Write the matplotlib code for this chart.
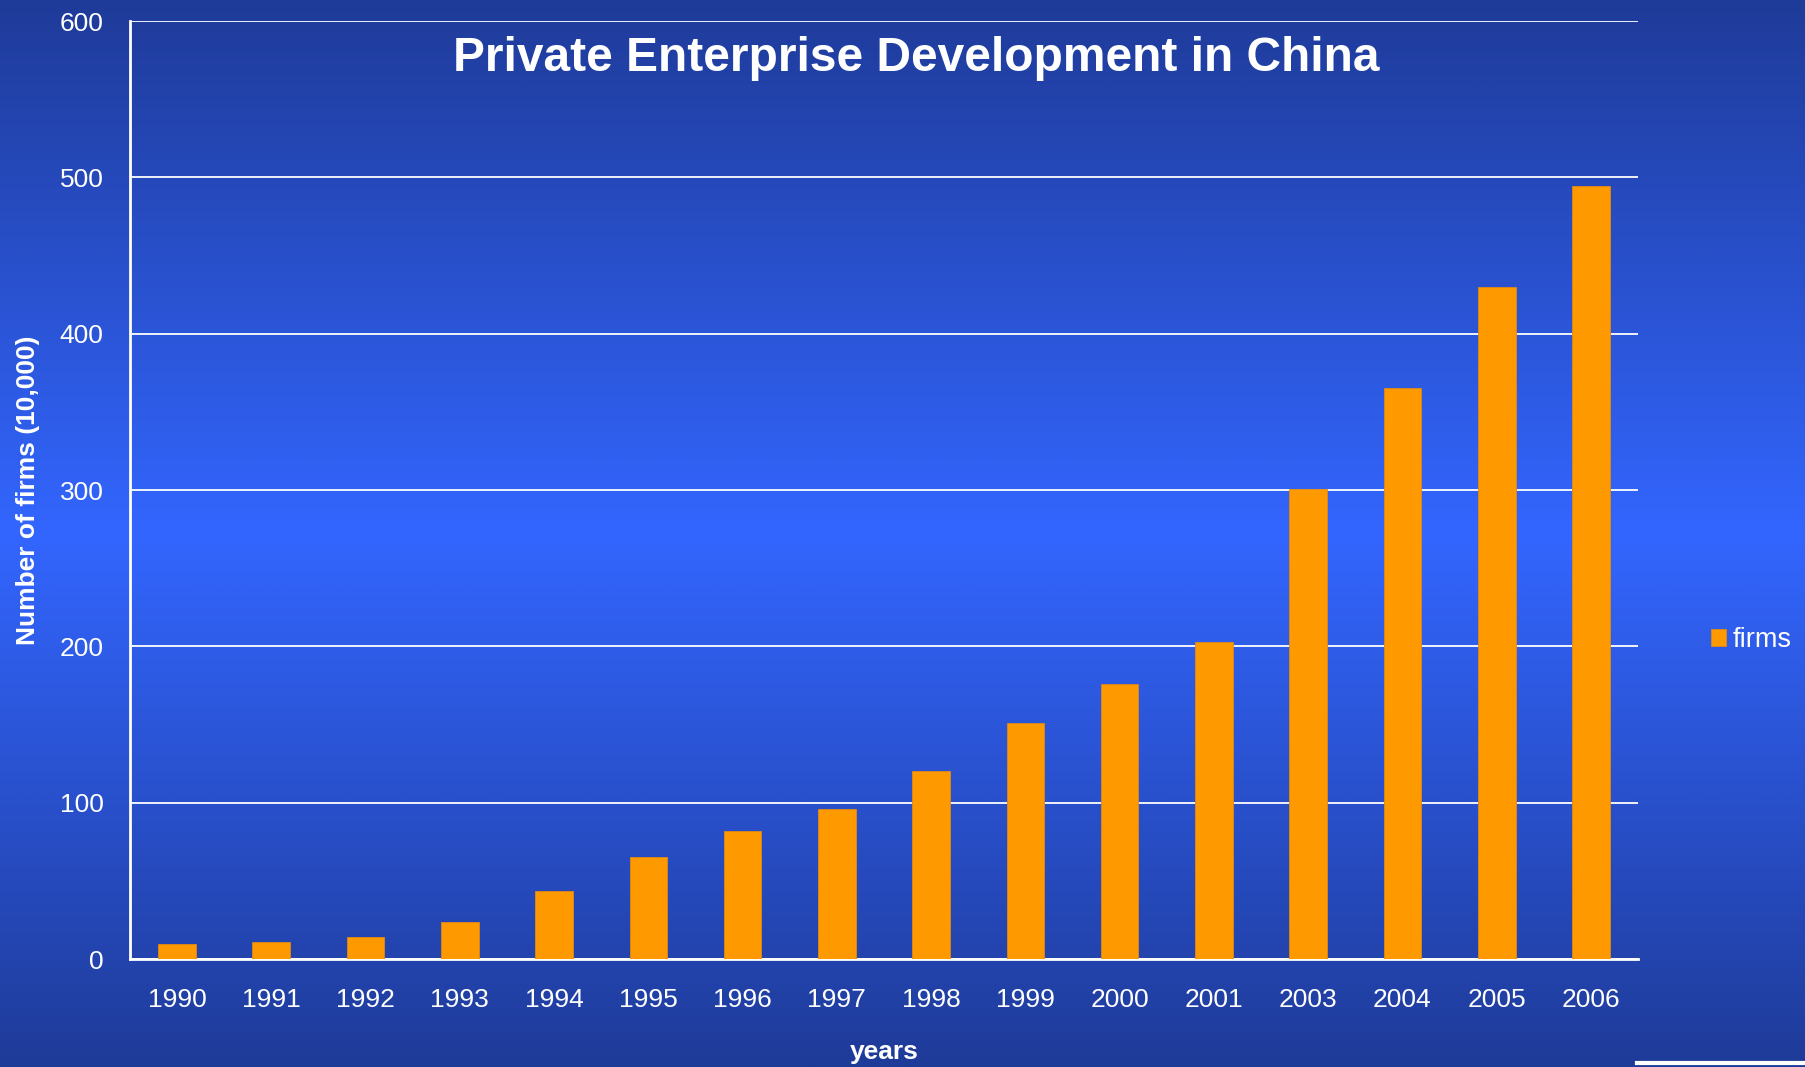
import numpy as np
import matplotlib
matplotlib.use("Agg")
import matplotlib.pyplot as plt
from matplotlib.lines import Line2D
from matplotlib.colors import LinearSegmentedColormap

years = ["1990", "1991", "1992", "1993", "1994", "1995", "1996", "1997",
         "1998", "1999", "2000", "2001", "2003", "2004", "2005", "2006"]
firms = [9.8, 10.8, 13.9, 23.8, 43.2, 65.5, 81.9, 96.1,
         120.1, 150.9, 176.2, 202.9, 300.6, 365.1, 430.1, 494.7]
yticks = [0, 100, 200, 300, 400, 500, 600]

plt.rcParams["font.family"] = ["Liberation Sans", "DejaVu Sans"]

fig = plt.figure(figsize=(18.05, 10.67), dpi=100)

# background gradient: dark top/bottom, bright middle
bg = fig.add_axes([0, 0, 1, 1], zorder=-10)
cmap = LinearSegmentedColormap.from_list(
    "bg", [(0.0, "#1f3b99"), (0.5, "#3366ff"), (1.0, "#1f3b99")])
grad = np.linspace(0, 1, 512).reshape(-1, 1)
bg.imshow(grad, aspect="auto", cmap=cmap, extent=[0, 1, 0, 1], origin="upper")
bg.set_axis_off()

ax = fig.add_axes([0.0720, 0.1012, 0.8355, 0.8791])
ax.patch.set_alpha(0)

x = np.arange(len(years))
ax.bar(x, firms, width=0.40, color="#ff9900", edgecolor="#e08a10",
       linewidth=0.6, label="firms", zorder=3)

ax.set_xlim(-0.5, len(years) - 0.5)
ax.set_ylim(0, 600)
ax.set_xticks(x)
ax.set_xticklabels(years)
ax.set_yticks(yticks)
ax.yaxis.grid(True, color="white", linewidth=1.3)
ax.set_axisbelow(True)

for side in ["top", "right"]:
    ax.spines[side].set_visible(False)
for side in ["left", "bottom"]:
    ax.spines[side].set_color("white")
    ax.spines[side].set_linewidth(2)

ax.tick_params(axis="both", length=0, colors="white", labelsize=19)
ax.tick_params(axis="y", pad=19)
ax.tick_params(axis="x", pad=21)

ax.set_ylabel("Number of firms (10,000)", color="white", fontsize=19,
              fontweight="bold", labelpad=14)
ax.set_xlabel("years", color="white", fontsize=19, fontweight="bold",
              labelpad=20)

fig.text(0.5075, 0.945, "Private Enterprise Development in China",
         color="white", fontsize=34.5, fontweight="bold",
         ha="center", va="center")

fig.legend(loc="center left", bbox_to_anchor=(0.948, 0.400), frameon=False,
           fontsize=19.5, labelcolor="white", handlelength=0.55,
           handleheight=0.55, handletextpad=0.25, borderpad=0,
           borderaxespad=0)

fig.add_artist(Line2D([0.907, 1.0], [0.0040, 0.0040], color="white",
                      linewidth=3, transform=fig.transFigure))

fig.savefig("out.png", dpi=100)
